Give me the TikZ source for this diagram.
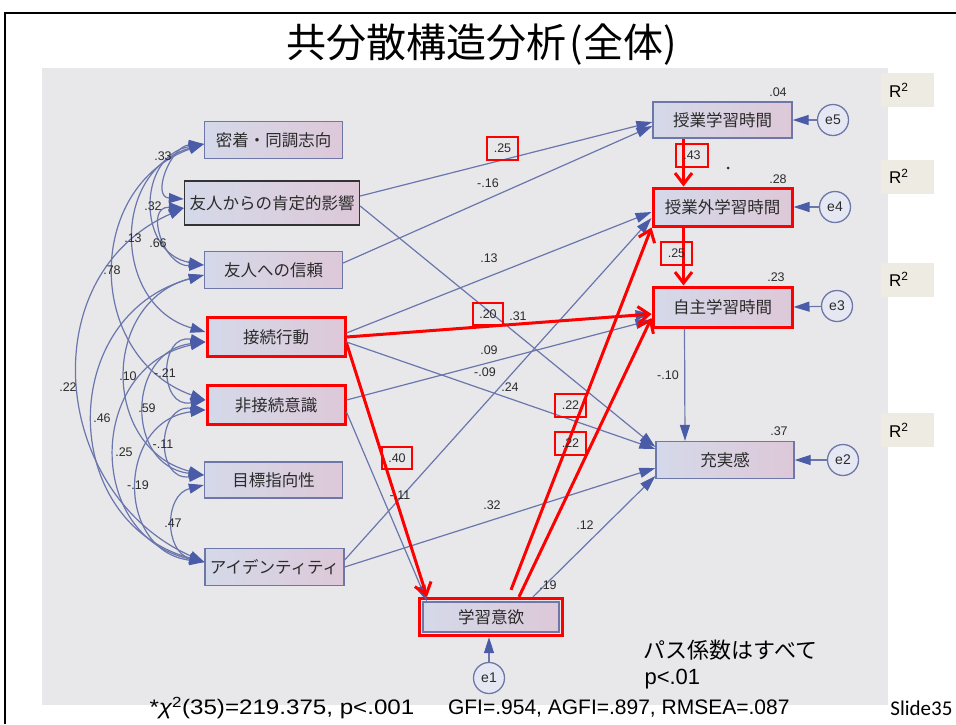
\documentclass[tikz,border=0pt]{standalone}
\usepackage{fontspec}
\setmainfont{Liberation Sans}
\newfontfamily\jp{Noto Sans CJK JP}
\newfontfamily\slidefont{Carlito}
\usetikzlibrary{arrows.meta,calc,fit}
\definecolor{bg}{HTML}{E8E8EB}
\definecolor{lineblue}{HTML}{6A76AC}
\definecolor{headblue}{HTML}{4A5BA8}
\definecolor{boxedge}{HTML}{6E77A8}
\definecolor{boxleft}{HTML}{D4D9E9}
\definecolor{boxright}{HTML}{DDC8D8}
\definecolor{rbeige}{HTML}{EEECE2}
\definecolor{txt}{HTML}{2B2B2B}
\tikzset{
 vbox/.style={draw=boxedge, line width=1.3pt, left color=boxleft, right color=boxright,
   minimum height=37pt, minimum width=138pt, inner sep=0pt,
   font=\jp\fontsize{16.5}{18}\selectfont, text=txt},
 redvbox/.style={vbox, draw=red, line width=3pt},
 errc/.style={circle, draw=boxedge, line width=1.3pt, fill=boxleft!60!white,
   minimum size=31pt, inner sep=0pt, font=\fontsize{14}{16}\selectfont, text=txt},
 pth/.style={draw=lineblue, line width=1.2pt, -{Triangle[length=16pt,width=10pt,color=headblue]}},
 cov/.style={draw=lineblue, line width=1.2pt,
   {Triangle[length=15pt,width=10pt,color=headblue]}-{Triangle[length=15pt,width=10pt,color=headblue]}},
 redarr/.style={draw=red, line width=3pt, -{Straight Barb[length=11pt,width=17pt]}},
 coef/.style={font=\fontsize{12.5}{13}\selectfont, text=txt, inner sep=1pt},
 redcoef/.style={coef, draw=red, line width=2pt, minimum width=31pt, minimum height=23pt},
 rsq/.style={fill=rbeige, minimum width=53pt, minimum height=34pt, inner sep=0pt,
   text width=37pt, align=left, font=\fontsize{17}{18}\selectfont},
}
\begin{document}
\begin{tikzpicture}[x=1pt,y=-1pt]
\useasboundingbox (0,0) rectangle (956,724);
\fill[bg] (42,68) rectangle (888,705);
\draw[line width=2pt] (5,724) -- (5,13) -- (956,13);

% title
\node[font=\jp\fontsize{40}{44}\selectfont] (title) at (482,45) {共分散構造分析\hspace{3pt}(全体)};

% exogenous boxes
\node[vbox] (A1) at (273.5,140) {密着・同調志向};
\node[vbox, draw=black!80, minimum width=175pt, minimum height=44pt] (A2) at (272,203) {友人からの肯定的影響};
\node[vbox] (A3) at (273.5,270) {友人への信頼};
\node[redvbox, minimum height=39pt] (A4) at (276,337) {接続行動};
\node[redvbox, minimum height=39pt] (A5) at (276,405) {非接続意識};
\node[vbox, minimum height=36pt] (A6) at (273.5,480) {目標指向性};
\node[vbox, minimum width=139pt] (A7) at (274.5,567) {アイデンティティ};

% endogenous boxes
\node[vbox, minimum width=139pt, minimum height=36pt] (B1) at (722.5,120) {授業学習時間};
\node[redvbox, minimum width=139pt, minimum height=38pt] (B2) at (722.5,207) {授業外学習時間};
\node[redvbox, minimum width=139pt, minimum height=40pt] (B3) at (722.5,307) {自主学習時間};
\node[vbox, minimum width=138pt] (B4) at (725,460) {充実感};
\node[vbox, minimum width=136pt, minimum height=30pt] (M) at (491,617) {学習意欲};
\node[draw=red, line width=3pt, fit=(M), inner sep=3pt] (Mred) {};

% error terms
\node[errc] (e5) at (833,120) {e5};
\node[errc] (e4) at (835,207) {e4};
\node[errc] (e3) at (837,306) {e3};
\node[errc] (e2) at (843,460) {e2};
\node[errc] (e1) at (489,678) {e1};

% covariance arcs
\draw[cov] ([yshift=-4pt]A1.west) .. controls +(-33,2) and +(-33,-2) .. ([yshift=4pt]A2.west);
\draw[cov] ([yshift=-4pt]A1.west) .. controls +(-67,12) and +(-67,-12) .. ([yshift=5pt]A3.west);
\draw[cov] ([yshift=-4pt]A1.west) .. controls +(-93,27) and +(-93,-27) .. ([yshift=5pt]A4.west);
\draw[cov] ([yshift=-4pt]A1.west) .. controls +(-120,43) and +(-120,-43) .. ([yshift=5pt]A5.west);
\draw[cov] ([yshift=-5pt]A2.west) .. controls +(-40,-2) and +(-40,2) .. ([yshift=5pt]A3.west);
\draw[cov] ([yshift=-5pt]A2.west) .. controls +(-153,68) and +(-153,-68) .. ([yshift=5pt]A7.west);
\draw[cov] ([yshift=-5pt]A3.west) .. controls +(-103,27) and +(-103,-27) .. ([yshift=5pt]A6.west);
\draw[cov] ([yshift=-5pt]A3.west) .. controls +(-147,40) and +(-147,-40) .. ([yshift=5pt]A7.west);
\draw[cov] ([yshift=-5pt]A4.west) .. controls +(-47,-9) and +(-47,9) .. ([yshift=5pt]A5.west);
\draw[cov] ([yshift=-5pt]A4.west) .. controls +(-79,9) and +(-79,-9) .. ([yshift=5pt]A6.west);
\draw[cov] ([yshift=-5pt]A4.west) .. controls +(-119,25) and +(-119,-25) .. ([yshift=5pt]A7.west);
\draw[cov] ([yshift=-5pt]A5.west) .. controls +(-49,-6) and +(-49,6) .. ([yshift=5pt]A6.west);
\draw[cov] ([yshift=-5pt]A5.west) .. controls +(-89,11) and +(-89,-11) .. ([yshift=5pt]A7.west);
\draw[cov] ([yshift=-5pt]A6.west) .. controls +(-40,10) and +(-40,-10) .. ([yshift=5pt]A7.west);

% covariance labels
\node[coef] at (163,156) {.33};
\node[coef] at (153,206) {.32};
\node[coef] at (133,238) {.13};
\node[coef] at (158,243) {.66};
\node[coef] at (112,270) {.78};
\node[coef] at (68,387) {.22};
\node[coef] at (128,376) {.10};
\node[coef] at (165,373) {-.21};
\node[coef] at (102,418) {.46};
\node[coef] at (147,408) {.59};
\node[coef] at (124,452) {.25};
\node[coef] at (163,444) {-.11};
\node[coef] at (138,485) {-.19};
\node[coef] at (173,523) {.47};

% blue paths
\draw[pth] ([yshift=7pt]A2.east) -- ([yshift=-2pt]B1.west);
\draw[pth] ([yshift=7pt]A3.east) -- ([yshift=-6pt]B1.west);
\draw[pth] ([yshift=-3pt]A2.east) -- ([yshift=13pt]B4.west);
\draw[pth] ([yshift=4pt]A4.east) -- ([yshift=-5pt]B2.west);
\draw[pth] (A4.east) -- ([yshift=-7pt]B3.west);
\draw[pth] ([yshift=5pt]A5.east) -- ([yshift=-13pt]B3.west);
\draw[pth] ([yshift=-5pt]A4.east) -- ([yshift=11pt]B4.west);
\draw[pth] ([yshift=7pt]A7.east) -- ([yshift=-11pt]B2.west);
\draw[pth] (A7.east) -- ([yshift=-8pt]B4.west);
\draw[pth] ([yshift=-7pt]A5.east) -- ([xshift=-64pt]M.north);
\draw[pth] ([xshift=42pt]Mred.north) -- ([yshift=-16pt]B4.west);
\draw[pth] ([xshift=-38pt]B3.south) -- ([xshift=-40pt]B4.north);
\draw[pth] (e5) -- (B1.east);
\draw[pth] (e4) -- (B2.east);
\draw[pth] (e3) -- (B3.east);
\draw[pth] (e2) -- (B4.east);
\draw[pth] (e1) -- (e1 |- Mred.south);

% red arrows
\draw[redarr] ([yshift=-6pt]A4.east) -- ([xshift=-64pt]Mred.north);
\draw[redarr] (A4.east) -- ([yshift=-7pt]B3.west);
\draw[redarr] ([xshift=20pt,yshift=7pt]Mred.north) -- (B2.south west);
\draw[redarr] ([xshift=28pt]Mred.north) -- ([yshift=-11pt]B3.west);
\draw[redarr] ([xshift=-39pt]B1.south) -- ([xshift=-39pt]B2.north);
\draw[redarr] ([xshift=-39pt]B2.south) -- ([xshift=-39pt]B3.north);

% path labels
\node[redcoef] at (502.5,148) {.25};
\node[coef] at (488,183) {-.16};
\node[coef] at (489,258) {.13};
\node[redcoef, minimum width=30pt, minimum height=22pt] at (488,314) {.20};
\node[coef] at (518,316) {.31};
\node[coef] at (489,350) {.09};
\node[coef] at (485,372) {-.09};
\node[coef] at (510,387) {.24};
\node[redcoef] at (570.5,405.5) {.22};
\node[redcoef] at (570.5,443) {.22};
\node[redcoef, minimum width=30pt, minimum height=22pt] at (397,458) {.40};
\node[coef] at (400,495) {-.11};
\node[coef] at (492,505) {.32};
\node[coef] at (585,525) {.12};
\node[coef] at (548,585) {.19};
\node[coef] at (668,375) {-.10};
\node[redcoef, minimum width=32pt] at (692,155.5) {.43};
\node[redcoef] at (676.5,253.5) {.25};
\fill[txt] (728,168) circle (1.5);

% squared multiple correlations
\node[coef] at (778,92) {.04};
\node[coef] at (778,179) {.28};
\node[coef] at (776,277) {.23};
\node[coef] at (779,431) {.37};
\node[rsq] (R1) at (907.5,90) {R\textsuperscript{2}};
\node[rsq] (R2) at (907.5,176.5) {R\textsuperscript{2}};
\node[rsq] (R3) at (907.5,279.5) {R\textsuperscript{2}};
\node[rsq] (R4) at (907.5,430) {R\textsuperscript{2}};

% notes
\node[anchor=west, font=\jp\fontsize{22}{24}\selectfont] (note1) at (640,650) {パス係数はすべて};
\node[anchor=west, font=\fontsize{22}{24}\selectfont] (note2) at (641,679) {p<.01};
\node[anchor=west, font=\fontsize{21}{24}\selectfont] (fit1) at (146,708) {\scalebox{1.15}[1]{*{\itshape χ}\textsuperscript{2}(35)=219.375, p<.001}};
\node[anchor=east, font=\fontsize{21}{24}\selectfont] (fit2) at (793,708) {GFI=.954, AGFI=.897, RMSEA=.087};
\node[anchor=east, font=\slidefont\fontsize{21}{24}\selectfont] (slide) at (956,708) {Slide35};
\end{tikzpicture}
\end{document}
